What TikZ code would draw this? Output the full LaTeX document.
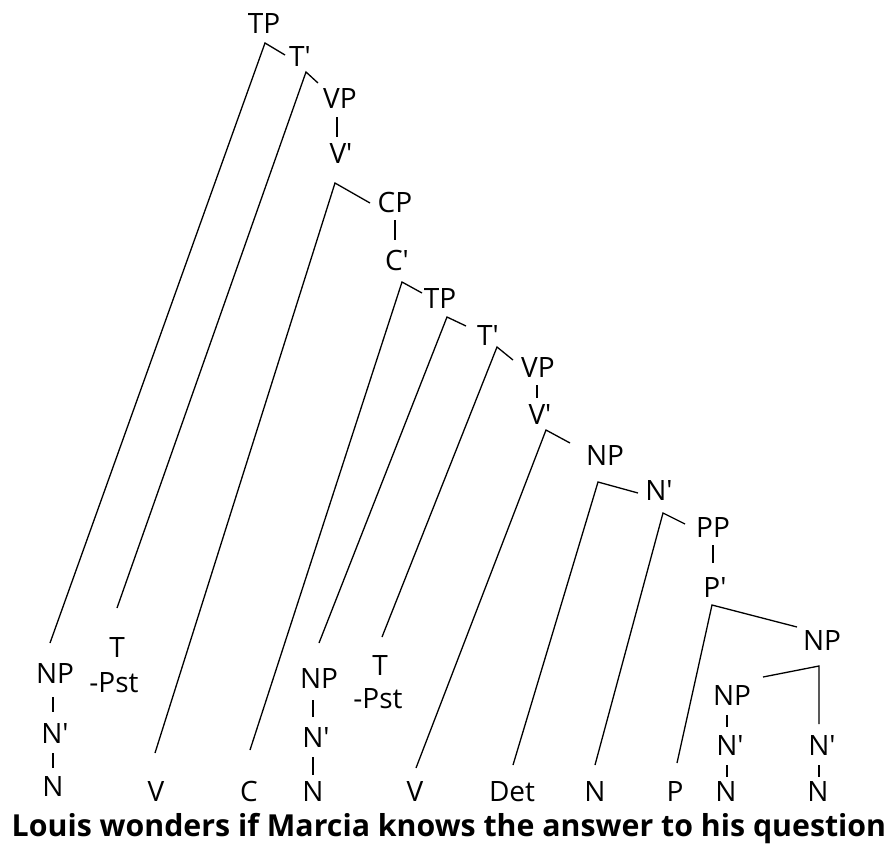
\documentclass[tikz,border=0pt]{standalone}
\usepackage{fontspec}
\setmainfont{Open Sans}
\newcommand{\pr}{\textquotesingle}
\begin{document}
\begin{tikzpicture}[x=1pt,y=-1pt,
  lab/.style={anchor=base,inner sep=0pt,font=\fontsize{28}{30}\selectfont},
  br/.style={line width=1.3pt,black}]
\useasboundingbox (0,0) rectangle (891,844);
% labels
\node[lab] (tpA) at (264,33) {TP};
\node[lab] (tbA) at (300,66) {T\pr};
\node[lab] (vpA) at (340,108) {VP};
\node[lab] (vbA) at (341,163) {V\pr};
\node[lab] (cp) at (395,212) {CP};
\node[lab] (cb) at (397,270) {C\pr};
\node[lab] (tpB) at (440,308) {TP};
\node[lab] (tbB) at (488,345) {T\pr};
\node[lab] (vpB) at (538,377) {VP};
\node[lab] (vbB) at (540,424) {V\pr};
\node[lab] (npO) at (605,465) {NP};
\node[lab] (nbO) at (659,500) {N\pr};
\node[lab] (pp) at (713,537) {PP};
\node[lab] (pb) at (715,597) {P\pr};
\node[lab] (npQ) at (822,650) {NP};
\node[lab] (npH) at (732,705) {NP};
\node[lab] (nbH) at (730,755) {N\pr};
\node[lab] (nH) at (726,801) {N};
\node[lab] (nbQ) at (822,755) {N\pr};
\node[lab] (nQ) at (818,801) {N};
\node[lab] (det) at (512,801) {Det};
\node[lab] (nA) at (595,801) {N};
\node[lab] (p) at (675,801) {P};
\node[lab] (npL) at (55,683) {NP};
\node[lab] (nbL) at (55,743) {N\pr};
\node[lab] (nL) at (53,796) {N};
\node[lab] (tL) at (117,657) {T};
\node[lab] (pstL) at (114,692) {-Pst};
\node[lab] (vW) at (156,801) {V};
\node[lab] (c) at (249,801) {C};
\node[lab] (npM) at (319,688) {NP};
\node[lab] (nbM) at (316,747) {N\pr};
\node[lab] (nM) at (313,801) {N};
\node[lab] (tM) at (380,675) {T};
\node[lab] (pstM) at (378,708) {-Pst};
\node[lab] (vK) at (415,801) {V};
\node[anchor=base,inner sep=0pt,font=\fontsize{30.3}{32}\selectfont\bfseries] (sent) at (449,836) {Louis wonders if Marcia knows the answer to his question};
% branch points and line ends
\coordinate (a1) at (265,43);  \coordinate (e1l) at (50,643);  \coordinate (e1r) at (285,55);
\coordinate (a2) at (306,72);  \coordinate (e2l) at (117,608); \coordinate (e2r) at (318,83);
\coordinate (u3a) at (337,117); \coordinate (u3b) at (337,137);
\coordinate (a4) at (335,183); \coordinate (e4l) at (155,753); \coordinate (e4r) at (370,203);
\coordinate (u5a) at (395,220); \coordinate (u5b) at (395,240);
\coordinate (a6) at (402,282); \coordinate (e6l) at (250,750); \coordinate (e6r) at (422,293);
\coordinate (a7) at (447,317); \coordinate (e7l) at (319,643); \coordinate (e7r) at (466,326);
\coordinate (a8) at (497,347); \coordinate (e8l) at (382,637); \coordinate (e8r) at (513,360);
\coordinate (u9a) at (537,385); \coordinate (u9b) at (537,398);
\coordinate (a10) at (546,430); \coordinate (e10l) at (416,768); \coordinate (e10r) at (570,443);
\coordinate (a11) at (598,482); \coordinate (e11l) at (513,765); \coordinate (e11r) at (638,493);
\coordinate (a12) at (663,513); \coordinate (e12l) at (595,765); \coordinate (e12r) at (685,524);
\coordinate (u13a) at (713,545); \coordinate (u13b) at (713,563);
\coordinate (a14) at (712,605); \coordinate (e14l) at (677,763); \coordinate (e14r) at (797,627);
\coordinate (a15) at (819,666); \coordinate (e15l) at (763,677); \coordinate (e15r) at (819,724);
\coordinate (u16a) at (727,715); \coordinate (u16b) at (727,727);
\coordinate (u16c) at (727,765); \coordinate (u16d) at (727,777);
\coordinate (u17a) at (819,765); \coordinate (u17b) at (819,777);
\coordinate (u18a) at (53,697); \coordinate (u18b) at (53,712);
\coordinate (u18c) at (53,753); \coordinate (u18d) at (53,768);
\coordinate (u19a) at (313,700); \coordinate (u19b) at (313,717);
\coordinate (u19c) at (313,757); \coordinate (u19d) at (313,775);
% connectors
\draw[br] (e1l) -- (a1) -- (e1r);
\draw[br] (e2l) -- (a2) -- (e2r);
\draw[br] (u3a) -- (u3b);
\draw[br] (e4l) -- (a4) -- (e4r);
\draw[br] (u5a) -- (u5b);
\draw[br] (e6l) -- (a6) -- (e6r);
\draw[br] (e7l) -- (a7) -- (e7r);
\draw[br] (e8l) -- (a8) -- (e8r);
\draw[br] (u9a) -- (u9b);
\draw[br] (e10l) -- (a10) -- (e10r);
\draw[br] (e11l) -- (a11) -- (e11r);
\draw[br] (e12l) -- (a12) -- (e12r);
\draw[br] (u13a) -- (u13b);
\draw[br] (e14l) -- (a14) -- (e14r);
\draw[br] (e15l) -- (a15) -- (e15r);
\draw[br] (u16a) -- (u16b);
\draw[br] (u16c) -- (u16d);
\draw[br] (u17a) -- (u17b);
\draw[br] (u18a) -- (u18b);
\draw[br] (u18c) -- (u18d);
\draw[br] (u19a) -- (u19b);
\draw[br] (u19c) -- (u19d);
\end{tikzpicture}
\end{document}
